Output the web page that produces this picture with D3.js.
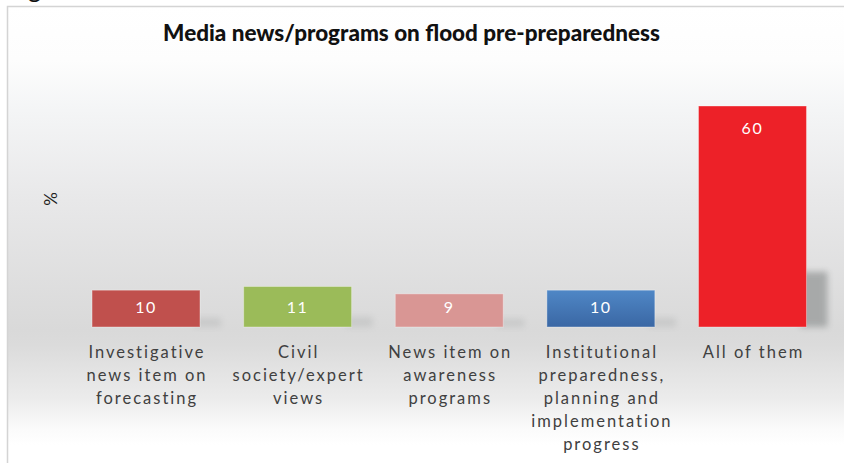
<!DOCTYPE html>
<html>
<head>
<meta charset="utf-8">
<script src="https://cdn.jsdelivr.net/npm/d3@7/dist/d3.min.js"></script>
<style>
  html, body { margin: 0; padding: 0; background: #ffffff; }
  svg { display: block; }
</style>
</head>
<body>
<svg id="chart" width="844" height="463"></svg>
<script>
// Chart data
const categories = [
  ["Investigative", "news item on", "forecasting"],
  ["Civil", "society/expert", "views"],
  ["News item on", "awareness", "programs"],
  ["Institutional", "preparedness,", "planning and", "implementation", "progress"],
  ["All of them"]
];
const values = [10, 11, 9, 10, 60];
const barColors = ["#c0504d", "#9bbb59", "#d99694", "url(#blueGrad)", "#ed2128"];
const titleText = "Media news/programs on flood pre-preparedness";
const yAxisLabel = "%";

const svg = d3.select("#chart");
const W = 844, H = 463;
const defs = svg.append("defs");

// Background gradient of the chart frame
const bg = defs.append("linearGradient")
  .attr("id", "bgGrad").attr("gradientUnits", "userSpaceOnUse")
  .attr("x1", 0).attr("y1", 6).attr("x2", 0).attr("y2", 463);
[[6, "#ffffff"], [60, "#fdfdfd"], [110, "#f4f5f6"], [200, "#e8e8e9"],
 [330, "#d9d9d9"], [345, "#dbdbdb"], [400, "#ececec"], [430, "#fbfbfb"], [445, "#ffffff"]]
  .forEach(([y, c]) => bg.append("stop").attr("offset", (y - 6) / (463 - 6)).attr("stop-color", c));

const blue = defs.append("linearGradient").attr("id", "blueGrad")
  .attr("x1", 0).attr("y1", 0).attr("x2", 0).attr("y2", 1);
blue.append("stop").attr("offset", 0).attr("stop-color", "#4f87c6");
blue.append("stop").attr("offset", 1).attr("stop-color", "#3a67a4");

const blur = defs.append("filter").attr("id", "shadowBlur")
  .attr("x", "-50%").attr("y", "-50%").attr("width", "200%").attr("height", "200%");
blur.append("feGaussianBlur").attr("stdDeviation", 3);

// Frame
svg.append("rect").attr("x", 7.5).attr("y", 6.5).attr("width", W).attr("height", H)
  .attr("fill", "url(#bgGrad)").attr("stroke", "#d4d4d4").attr("stroke-width", 1.5);

// Caption fragment above the frame
svg.append("text").attr("x", 28).attr("y", -2)
  .attr("font-family", "Lato, sans-serif").attr("font-size", 25).attr("fill", "#111")
  .text("g");

// Scales
const x = d3.scaleBand()
  .domain(d3.range(values.length))
  .range([70.2, 828.3])
  .paddingInner(0.288)
  .paddingOuter(0.144);
const y = d3.scaleLinear().domain([0, 60]).range([327, 106]);

// Title
const title = svg.append("text")
  .attr("x", 411.5).attr("y", 41)
  .attr("text-anchor", "middle")
  .attr("font-family", "Lato, sans-serif").attr("font-weight", 900)
  .attr("font-size", 19).attr("fill", "#111111")
  .text(titleText);
const tw = title.node().getComputedTextLength();
title.attr("font-size", 19 * 497 / tw);

// Y axis label
svg.append("text")
  .attr("transform", "translate(57,199) rotate(-90)")
  .attr("text-anchor", "middle")
  .attr("font-family", "Lato, sans-serif").attr("font-size", 17).attr("fill", "#222")
  .text(yAxisLabel);

// Bar shadows
svg.append("g").selectAll("rect").data(values).join("rect")
  .attr("x", (d, i) => x(i) + x.bandwidth() - 6)
  .attr("y", d => y(0) - (y(0) - y(d)) * 0.25)
  .attr("width", 27)
  .attr("height", d => (y(0) - y(d)) * 0.25)
  .attr("fill", "#a2a4a4")
  .attr("opacity", d => d > 30 ? 0.9 : 0.3)
  .attr("filter", "url(#shadowBlur)");

// Bars
svg.append("g").selectAll("rect").data(values).join("rect")
  .attr("x", (d, i) => x(i))
  .attr("y", d => y(d))
  .attr("width", x.bandwidth())
  .attr("height", d => y(0) - y(d))
  .attr("fill", (d, i) => barColors[i])
  .attr("stroke", "rgba(255,255,255,0.35)")
  .attr("stroke-width", 1);

// Value labels
svg.append("g").selectAll("text").data(values).join("text")
  .attr("x", (d, i) => x(i) + x.bandwidth() / 2)
  .attr("y", d => Math.min(y(d) + 22, y(0) - 20))
  .attr("dy", "0.35em")
  .attr("text-anchor", "middle")
  .attr("font-family", "Lato, sans-serif").attr("font-size", 16)
  .attr("letter-spacing", 1.6)
  .attr("fill", "#ffffff")
  .text(d => d);

// Category labels
const cat = svg.append("g").selectAll("text").data(categories).join("text")
  .attr("text-anchor", "middle")
  .attr("font-family", "Lato, sans-serif").attr("font-size", 16.5)
  .attr("letter-spacing", 2)
  .attr("fill", "#404040");
cat.each(function (lines, i) {
  d3.select(this).selectAll("tspan").data(lines).join("tspan")
    .attr("x", x(i) + x.bandwidth() / 2 + 1)
    .attr("y", (l, j) => 357.5 + j * 23)
    .text(l => l);
});
</script>
</body>
</html>
